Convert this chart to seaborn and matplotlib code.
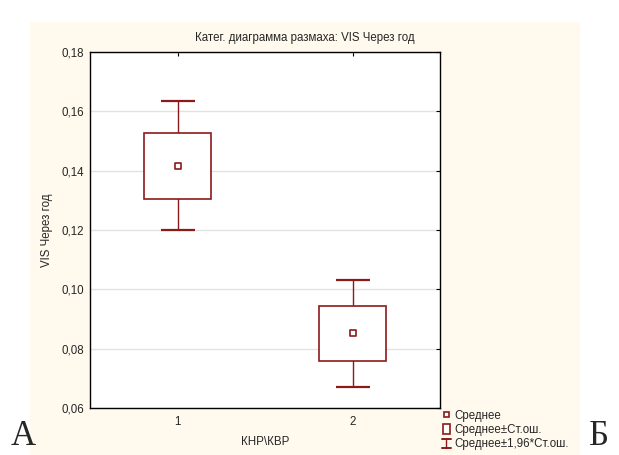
import matplotlib
matplotlib.use("Agg")
import matplotlib.pyplot as plt
import matplotlib.patches as mpatches
from matplotlib.legend_handler import HandlerBase
from matplotlib.lines import Line2D
import seaborn as sns
import pandas as pd
import numpy as np

categories = ["1", "2"]
means = [0.1416, 0.0852]
se = [0.0111, 0.0092]

title = "Катег. диаграмма размаха: VIS Через год"
xlabel = "КНР\\КВР"
ylabel = "VIS Через год"
yticks = [0.06, 0.08, 0.10, 0.12, 0.14, 0.16, 0.18]
legend_labels = ["Среднее", "Среднее±Ст.ош.", "Среднее±1,96*Ст.ош."]

sns.set_style("white")
plt.rcParams['font.family'] = ['Liberation Sans', 'DejaVu Sans']

red = "#8B1A1A"
FS = 8.3
W, H = 619, 455
fig = plt.figure(figsize=(W / 100, H / 100), dpi=100)
fig.patch.set_facecolor("white")
bg = mpatches.Rectangle((30 / W, 0), 550 / W, (H - 22) / H,
                        transform=fig.transFigure,
                        facecolor="#FFF9EE", edgecolor="none", zorder=-10)
fig.add_artist(bg)

ax = fig.add_axes([90 / W, (H - 408) / H, 350 / W, 356 / H])
ax.set_zorder(1)
ax.set_facecolor("white")

df = pd.DataFrame({"cat": categories, "mean": means, "se": se})
xpos = np.arange(1, len(categories) + 1)
m = df["mean"].to_numpy()
s = df["se"].to_numpy()

ax.errorbar(xpos, m, yerr=1.96 * s, fmt="none", ecolor=red, elinewidth=1.0,
            capsize=12, capthick=1.6, zorder=2)
ax.bar(xpos, 2 * s, bottom=m - s, width=0.38, facecolor="white",
       edgecolor=red, linewidth=1.2, zorder=3)
sns.scatterplot(x=xpos, y=m, marker="s", s=16, facecolor="white", edgecolor=red,
                linewidth=1.2, zorder=4, ax=ax, legend=False)

ax.set_xlim(0.5, 2.5)
ax.set_ylim(0.06, 0.18)
ax.set_xticks(xpos)
ax.set_xticklabels(categories)
ax.set_yticks(yticks)
ax.set_yticklabels([f"{v:.2f}".replace(".", ",") for v in yticks])
ax.yaxis.grid(True, color="#E2E2E2", linewidth=1.0)
ax.set_axisbelow(True)
ax.tick_params(axis="both", which="both", direction="in", length=3, labelsize=FS,
               top=True, right=True, color="black")
ax.tick_params(axis="y", pad=4.5)
ax.tick_params(axis="x", pad=6)
for sp in ax.spines.values():
    sp.set_color("black")
    sp.set_linewidth(1.0)

fig.text(305 / W, (H - 38) / H, title, fontsize=FS, ha="center", va="center")
ax.set_xlabel(xlabel, fontsize=FS)
ax.xaxis.set_label_coords(0.5, (408 - 436) / 356, transform=ax.transAxes)
ax.set_ylabel(ylabel, fontsize=FS)
ax.yaxis.set_label_coords((53 - 90) / 350, 0.5, transform=ax.transAxes)


class WhiskerHandle:
    pass


class HandlerWhisker(HandlerBase):
    def create_artists(self, legend, orig_handle, xdescent, ydescent, width, height,
                       fontsize, trans):
        cx = width / 2 - xdescent
        y0 = -ydescent
        y1 = height - ydescent
        hw = 3.0
        lines = [Line2D([cx, cx], [y0, y1], color=red, lw=1.0),
                 Line2D([cx - hw, cx + hw], [y0, y0], color=red, lw=1.4),
                 Line2D([cx - hw, cx + hw], [y1, y1], color=red, lw=1.4)]
        for ln in lines:
            ln.set_transform(trans)
        return lines


class HandlerBox(HandlerBase):
    def create_artists(self, legend, orig_handle, xdescent, ydescent, width, height,
                       fontsize, trans):
        cx = width / 2 - xdescent
        bw = 4.6
        r = mpatches.Rectangle((cx - bw / 2, -ydescent), bw, height,
                               facecolor="white", edgecolor=red, linewidth=1.2)
        r.set_transform(trans)
        return [r]


class BoxHandle:
    pass


h_mean = Line2D([], [], marker="s", linestyle="none", markersize=3.6,
                markerfacecolor="white", markeredgecolor=red, markeredgewidth=1.2)
leg = fig.legend([h_mean, BoxHandle(), WhiskerHandle()], legend_labels, loc="upper left",
                 bbox_to_anchor=(436 / W, (H - 404) / H), frameon=False,
                 fontsize=FS, handlelength=0.8, handleheight=0.9, handletextpad=0.3,
                 labelspacing=0.2, borderpad=0,
                 handler_map={WhiskerHandle: HandlerWhisker(), BoxHandle: HandlerBox()})

fig.text(11 / W, (H - 453) / H, "А", fontsize=25, family="Liberation Serif", va="bottom")
fig.text(589 / W, (H - 453) / H, "Б", fontsize=25, family="Liberation Serif", va="bottom")

fig.savefig("out.png", dpi=100)
